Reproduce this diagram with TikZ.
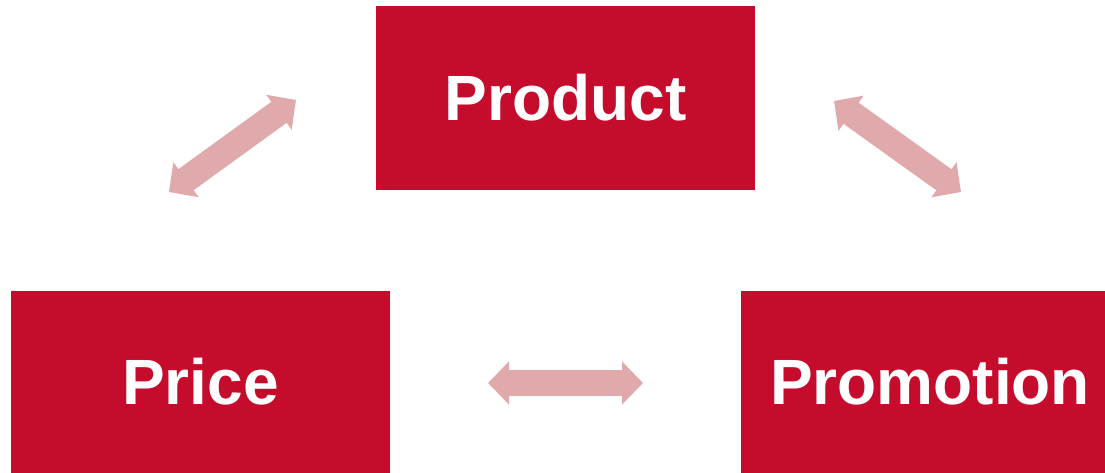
\documentclass[tikz,border=0pt]{standalone}
\usepackage{fontspec}
\setmainfont{Liberation Sans}
\usetikzlibrary{arrows.meta,positioning}
\definecolor{boxred}{HTML}{C60C2C}
\definecolor{linkpink}{HTML}{E0A9AB}
\begin{document}
\begin{tikzpicture}[x=1pt,y=-1pt,box/.style={fill=boxred,text=white,inner sep=0pt,minimum height=182pt,font=\fontsize{64}{70}\selectfont\bfseries},link/.style={draw=linkpink,line width=26pt,{Triangle[length=21pt,width=42pt]}-{Triangle[length=21pt,width=42pt]}}]
\useasboundingbox (0,0) rectangle (1105,473);
\node[box,minimum width=379pt,minimum height=184pt](product) at (565.5,98){Product};
\node[box,minimum width=379pt](price) at (200.5,382){Price};
\node[box,minimum width=364pt](promotion) at (923,382){\hspace*{14pt}Promotion};
\coordinate(pl1) at (169,192);\coordinate(pl2) at (296,100);
\coordinate(pr1) at (834,101);\coordinate(pr2) at (961,192);
\coordinate(pp1) at (488,383);\coordinate(pp2) at (643,383);
\draw[link](pl1)--(pl2);\draw[link](pr1)--(pr2);\draw[link](pp1)--(pp2);
\end{tikzpicture}
\end{document}
